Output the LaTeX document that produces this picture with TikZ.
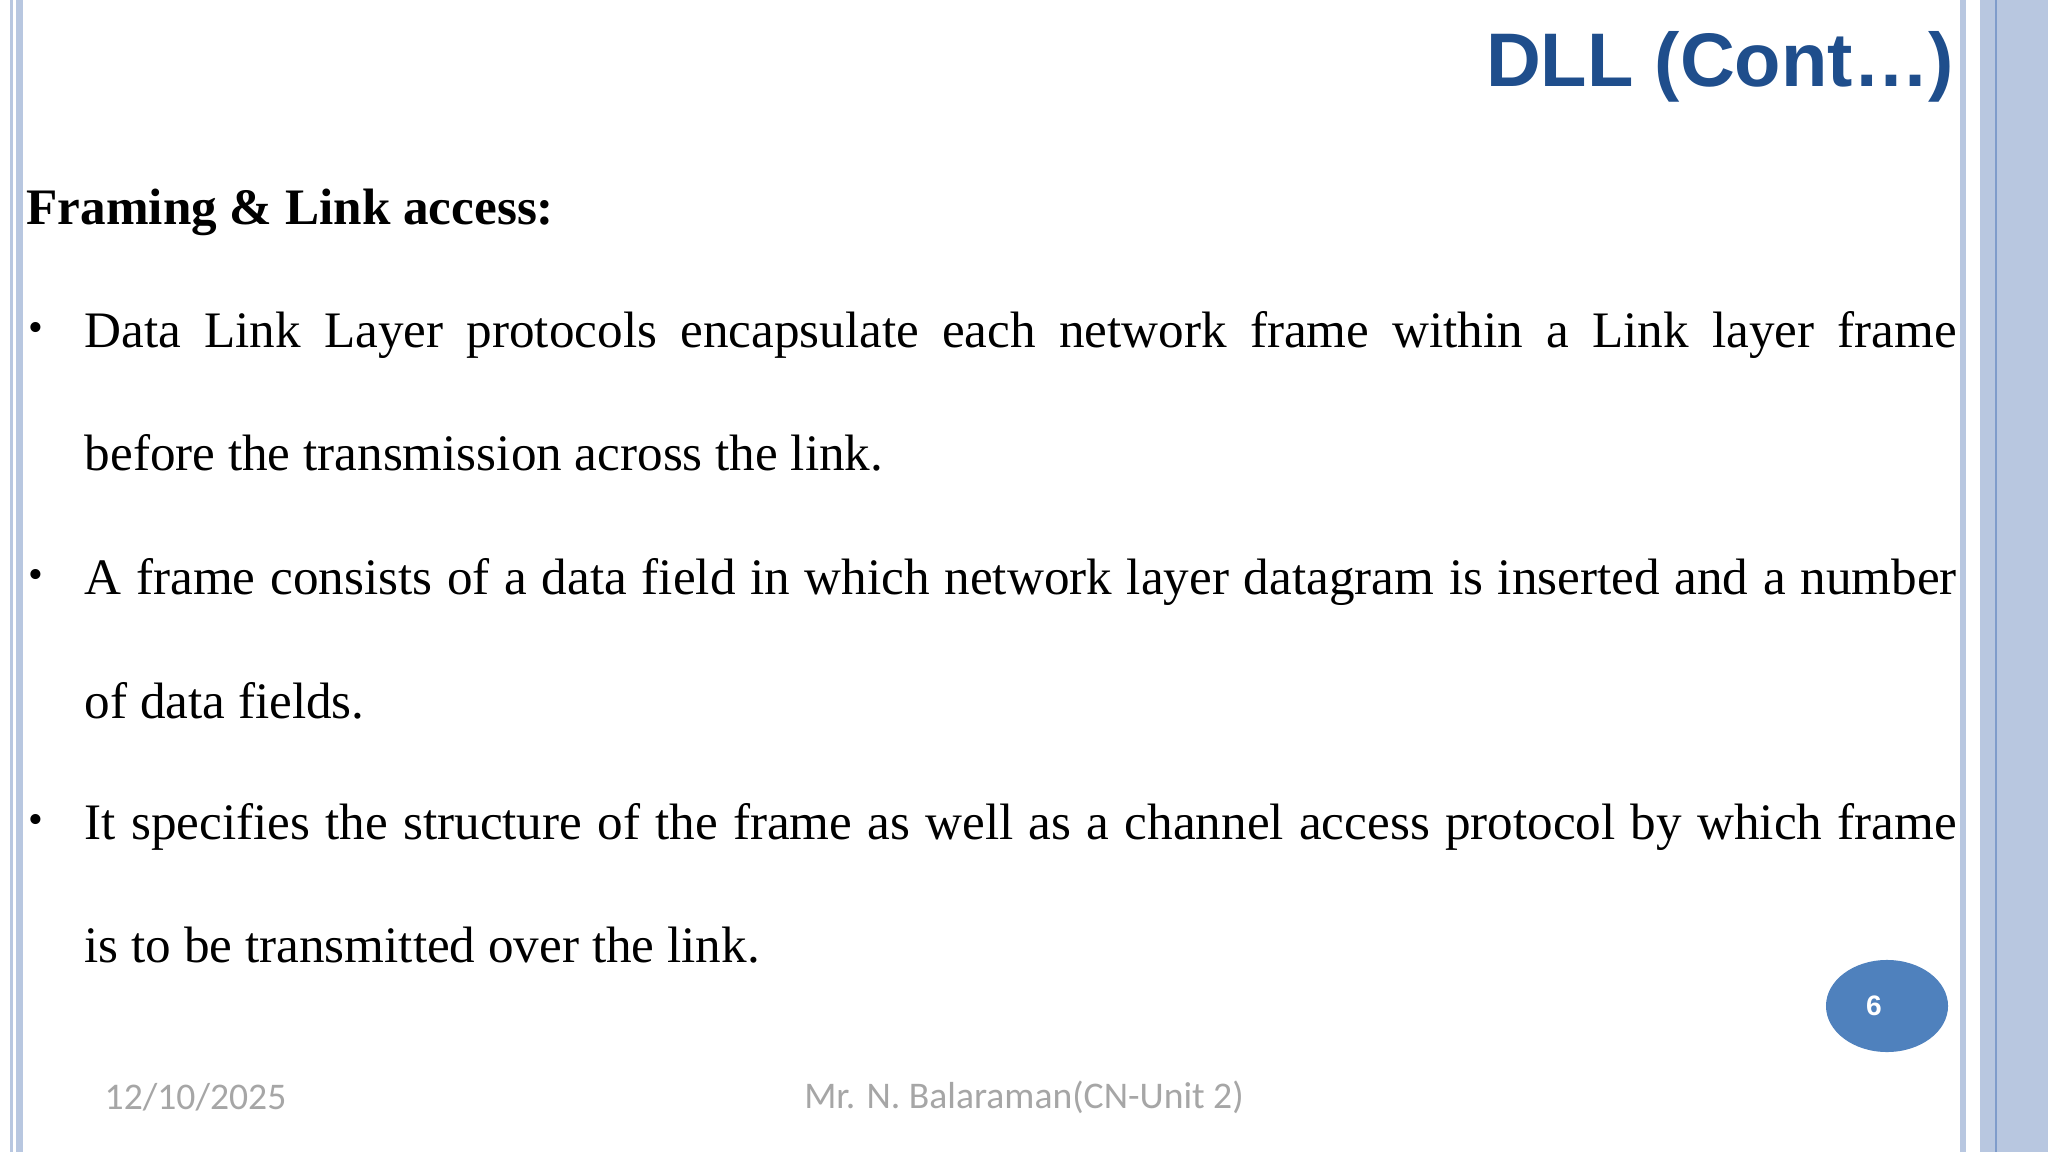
\documentclass[tikz,border=0pt]{standalone}
\usetikzlibrary{shapes.geometric}
\usepackage{fontspec}
\setmainfont{Liberation Serif}
\newfontfamily\titlefont{Liberation Sans}
\newfontfamily\footfont{Carlito}
\definecolor{barblue}{HTML}{B8C7E0}
\definecolor{linebl}{HTML}{7F9CCB}
\definecolor{titleblue}{HTML}{1F4E8C}
\definecolor{ovalblue}{HTML}{4F81BD}
\definecolor{footgray}{HTML}{A6A6A6}
\tikzset{
  body/.style={anchor=base west,inner sep=0pt,font=\fontsize{14.55}{18}\selectfont},
  bul/.style={anchor=base west,inner sep=0pt,font=\fontsize{12}{14}\selectfont},
  foot/.style={inner sep=0pt,text=footgray,font=\footfont\fontsize{10.7}{12}\selectfont}
}
\newcommand{\jline}[1]{\makebox[18.71cm][s]{#1}}
\begin{document}
\begin{tikzpicture}[x=0.01cm,y=-0.01cm]
\useasboundingbox (0,0) rectangle (2048,1152);
\fill[white] (0,0) rectangle (2048,1152);
% borders
\fill[barblue] (10,0) rectangle (13,1152);
\fill[barblue] (16,0) rectangle (23,1152);
\fill[barblue] (1960,0) rectangle (1966,1152);
\fill[barblue] (1980,0) rectangle (2048,1152);
\draw[linebl,line width=0.6pt] (1996,0) -- (1996,1152);
% title
\node (title) [anchor=east,inner sep=0pt,text=titleblue,font=\titlefont\bfseries\fontsize{21.6}{24}\selectfont] at (1955,67) {DLL (Cont…)};
\node (head) [anchor=base west,inner sep=0pt,font=\bfseries\fontsize{14.55}{18}\selectfont] at (26,225) {Framing \& Link access:};
% bullets
\node (b1) [bul] at (28,342) {•};
\node (b2) [bul] at (28,588) {•};
\node (b3) [bul] at (28,833) {•};
\node (l1) [body] at (84,348) {\jline{Data Link Layer protocols encapsulate each network frame within a Link layer frame}};
\node (l2) [body] at (84,471) {before the transmission across the link.};
\node (l3) [body] at (84,594) {\jline{A frame consists of a data field in which network layer datagram is inserted and a number}};
\node (l4) [body] at (84,718) {of data fields.};
\node (l5) [body] at (84,839) {\jline{It specifies the structure of the frame as well as a channel access protocol by which frame}};
\node (l6) [body] at (84,962) {is to be transmitted over the link.};
% page number
\node (pg) [ellipse,fill=ovalblue,minimum width=1.22cm,minimum height=0.92cm,inner sep=0pt] at (1887,1006) {};
\node[text=white,font=\titlefont\bfseries\fontsize{8}{10}\selectfont] at ([xshift=-0.13cm]pg.center) {6};
% footer
\node (date) [foot,anchor=west] at (104,1097) {12/10/2025};
\node (auth) [foot] at (1024,1097) {Mr. N. Balaraman(CN-Unit 2)};
\end{tikzpicture}
\end{document}
